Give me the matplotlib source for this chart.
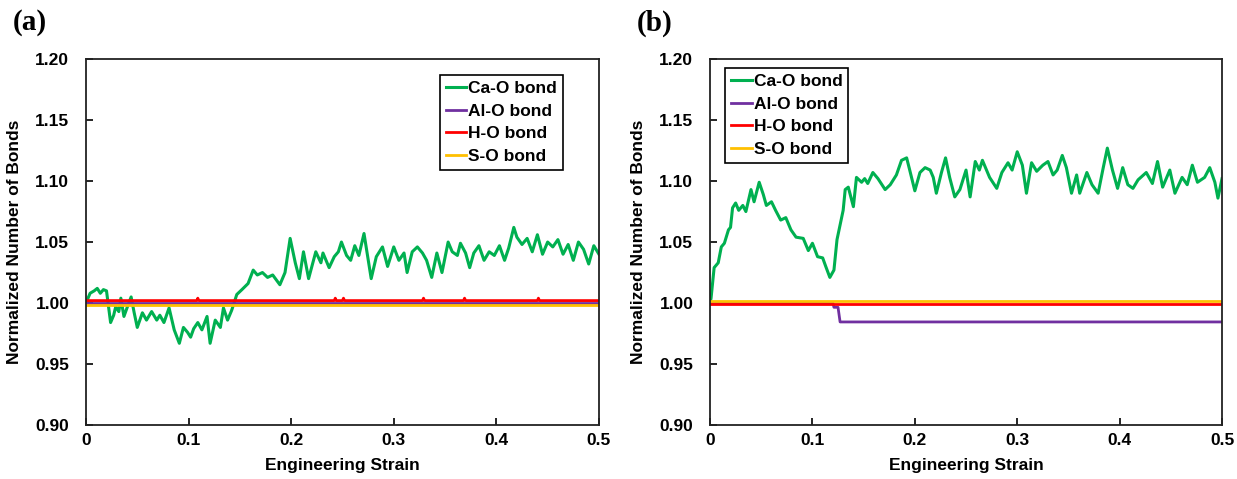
import numpy as np
import matplotlib
matplotlib.use("Agg")
import matplotlib.pyplot as plt

plt.rcParams['font.family'] = ['Liberation Sans', 'DejaVu Sans']
plt.rcParams['font.weight'] = 'bold'

# ---- panel (a) data ----
a_cao_x = [0.000, 0.004, 0.008, 0.011, 0.014, 0.017, 0.020, 0.024, 0.027, 0.029, 0.032, 0.034,
           0.037, 0.040, 0.044, 0.047, 0.050, 0.055, 0.059, 0.064, 0.069, 0.072, 0.076, 0.081,
           0.086, 0.091, 0.095, 0.099, 0.102, 0.105, 0.109, 0.113, 0.118, 0.121, 0.126, 0.131,
           0.134, 0.138, 0.142, 0.147, 0.152, 0.158, 0.163, 0.167, 0.172, 0.177, 0.182, 0.189,
           0.194, 0.199, 0.204, 0.208, 0.212, 0.217, 0.224, 0.229, 0.231, 0.237, 0.242, 0.246,
           0.249, 0.254, 0.258, 0.262, 0.266, 0.271, 0.278, 0.283, 0.289, 0.294, 0.300, 0.305,
           0.310, 0.313, 0.318, 0.323, 0.328, 0.332, 0.337, 0.342, 0.347, 0.353, 0.357, 0.362,
           0.365, 0.370, 0.374, 0.378, 0.383, 0.388, 0.393, 0.398, 0.403, 0.408, 0.412, 0.417,
           0.420, 0.425, 0.430, 0.435, 0.440, 0.445, 0.450, 0.455, 0.460, 0.465, 0.470, 0.475,
           0.480, 0.485, 0.490, 0.495, 0.500]
a_cao_y = [1.000, 1.008, 1.010, 1.012, 1.008, 1.011, 1.010, 0.984, 0.990, 0.997, 0.993, 1.004,
           0.989, 0.996, 1.005, 0.992, 0.980, 0.992, 0.986, 0.993, 0.986, 0.990, 0.984, 0.996,
           0.978, 0.967, 0.980, 0.976, 0.972, 0.979, 0.984, 0.978, 0.989, 0.967, 0.986, 0.980,
           0.996, 0.986, 0.994, 1.007, 1.011, 1.016, 1.027, 1.023, 1.025, 1.021, 1.023, 1.015,
           1.025, 1.053, 1.033, 1.020, 1.042, 1.020, 1.042, 1.033, 1.041, 1.029, 1.038, 1.042,
           1.050, 1.039, 1.035, 1.047, 1.039, 1.057, 1.020, 1.038, 1.046, 1.030, 1.046, 1.035,
           1.041, 1.025, 1.042, 1.046, 1.041, 1.035, 1.021, 1.041, 1.025, 1.050, 1.042, 1.039,
           1.049, 1.041, 1.029, 1.041, 1.047, 1.035, 1.042, 1.039, 1.047, 1.035, 1.045, 1.062,
           1.054, 1.048, 1.053, 1.042, 1.056, 1.040, 1.050, 1.046, 1.052, 1.040, 1.048, 1.035,
           1.050, 1.044, 1.032, 1.047, 1.040]
a_alo_x = [0.0, 0.5]
a_alo_y = [1.000, 1.000]
a_ho_x = [0.0, 0.108, 0.109, 0.110, 0.242, 0.243, 0.244, 0.250, 0.251, 0.252,
          0.328, 0.329, 0.330, 0.368, 0.369, 0.370, 0.440, 0.441, 0.442, 0.5]
a_ho_y = [1.002, 1.002, 1.004, 1.002, 1.002, 1.004, 1.002, 1.002, 1.004, 1.002,
          1.002, 1.004, 1.002, 1.002, 1.004, 1.002, 1.002, 1.004, 1.002, 1.002]
a_so_x = [0.0, 0.5]
a_so_y = [0.998, 0.998]

# ---- panel (b) data ----
b_cao_x = [0.000, 0.001, 0.004, 0.008, 0.011, 0.014, 0.018, 0.020, 0.022, 0.025, 0.028, 0.032,
           0.035, 0.040, 0.043, 0.048, 0.052, 0.055, 0.060, 0.064, 0.069, 0.074, 0.079, 0.084,
           0.091, 0.096, 0.100, 0.105, 0.110, 0.113, 0.117, 0.121, 0.124, 0.130, 0.132, 0.135,
           0.140, 0.143, 0.148, 0.151, 0.154, 0.159, 0.164, 0.171, 0.176, 0.182, 0.187, 0.192,
           0.195, 0.200, 0.205, 0.210, 0.215, 0.218, 0.221, 0.226, 0.230, 0.234, 0.239, 0.244,
           0.250, 0.254, 0.259, 0.263, 0.266, 0.273, 0.280, 0.285, 0.291, 0.295, 0.300, 0.305,
           0.309, 0.314, 0.319, 0.325, 0.330, 0.335, 0.339, 0.344, 0.348, 0.353, 0.358, 0.361,
           0.368, 0.373, 0.379, 0.384, 0.388, 0.393, 0.398, 0.403, 0.408, 0.413, 0.418, 0.426,
           0.432, 0.437, 0.442, 0.449, 0.454, 0.461, 0.466, 0.471, 0.476, 0.483, 0.488, 0.493,
           0.496, 0.500]
b_cao_y = [1.000, 1.004, 1.029, 1.033, 1.046, 1.049, 1.060, 1.062, 1.078, 1.082, 1.076, 1.080,
           1.075, 1.093, 1.083, 1.099, 1.089, 1.080, 1.083, 1.076, 1.068, 1.070, 1.060, 1.054,
           1.053, 1.043, 1.049, 1.038, 1.037, 1.030, 1.021, 1.027, 1.052, 1.076, 1.093, 1.095,
           1.079, 1.103, 1.099, 1.102, 1.098, 1.107, 1.102, 1.093, 1.097, 1.105, 1.117, 1.119,
           1.109, 1.092, 1.107, 1.111, 1.109, 1.103, 1.090, 1.107, 1.119, 1.103, 1.087, 1.093,
           1.109, 1.087, 1.116, 1.109, 1.117, 1.103, 1.094, 1.107, 1.115, 1.109, 1.124, 1.113,
           1.090, 1.115, 1.108, 1.113, 1.116, 1.105, 1.109, 1.121, 1.111, 1.090, 1.105, 1.090,
           1.107, 1.097, 1.090, 1.111, 1.127, 1.109, 1.094, 1.111, 1.097, 1.094, 1.101, 1.107,
           1.098, 1.116, 1.095, 1.109, 1.090, 1.103, 1.097, 1.113, 1.099, 1.103, 1.111, 1.099,
           1.086, 1.102]
b_alo_x = [0.0, 0.120, 0.121, 0.125, 0.127, 0.5]
b_alo_y = [1.000, 1.000, 0.9965, 0.9965, 0.9845, 0.9845]
b_ho_x = [0.0, 0.5]
b_ho_y = [0.9995, 0.9995]
b_so_x = [0.0, 0.5]
b_so_y = [1.0015, 1.0015]

labels = ['Ca-O bond', 'Al-O bond', 'H-O bond', 'S-O bond']
colors = ['#00B050', '#7030A0', '#FF0000', '#FFC000']
y_ticks = [0.90, 0.95, 1.00, 1.05, 1.10, 1.15, 1.20]
x_ticks = [0, 0.1, 0.2, 0.3, 0.4, 0.5]
x_ticklabels = ['0', '0.1', '0.2', '0.3', '0.4', '0.5']

fig = plt.figure(figsize=(12.37, 4.79), dpi=100)
ax_a = fig.add_axes([0.0695, 0.1127, 0.4147, 0.764])
ax_b = fig.add_axes([0.574, 0.1127, 0.4139, 0.764])

panels = [
    (ax_a, [(a_cao_x, a_cao_y), (a_alo_x, a_alo_y), (a_ho_x, a_ho_y), (a_so_x, a_so_y)],
     dict(loc='upper right', bbox_to_anchor=(0.930, 0.956))),
    (ax_b, [(b_cao_x, b_cao_y), (b_alo_x, b_alo_y), (b_ho_x, b_ho_y), (b_so_x, b_so_y)],
     dict(loc='upper left', bbox_to_anchor=(0.029, 0.975))),
]

for ax, series, leg_kw in panels:
    for (xs, ys), lab, col in zip(series, labels, colors):
        lw = 2.2 if lab == 'Ca-O bond' else 2.0
        ax.plot(xs, ys, color=col, lw=lw, label=lab)
    ax.set_xlim(0, 0.5)
    ax.set_ylim(0.90, 1.20)
    ax.set_yticks(y_ticks)
    ax.set_yticklabels([f'{v:.2f}' for v in y_ticks])
    ax.set_xticks(x_ticks)
    ax.set_xticklabels(x_ticklabels)
    ax.tick_params(direction='in', length=5, width=1.2, labelsize=12.5, colors='black')
    ax.tick_params(axis='y', pad=12)
    ax.tick_params(axis='x', pad=6)
    for s in ax.spines.values():
        s.set_linewidth(1.3)
        s.set_color('#222222')
    ax.set_xlabel('Engineering Strain', fontsize=12.5, fontweight='bold')
    ax.set_ylabel('Normalized Number of Bonds', fontsize=12.5, fontweight='bold')
    ax.yaxis.set_label_coords(-0.125, 0.5)
    ax.xaxis.set_label_coords(0.5, -0.09)
    leg = ax.legend(fontsize=12.5, handlelength=1.2, handletextpad=0.1, borderpad=0.35,
                    labelspacing=0.42, fancybox=False, framealpha=1, edgecolor='black',
                    borderaxespad=0.0, **leg_kw)
    leg.get_frame().set_linewidth(1.2)
    for t in leg.get_texts():
        t.set_fontweight('bold')

fig.text(0.024, 0.952, '(a)', fontsize=21, fontweight='bold',
         family=['Liberation Serif', 'DejaVu Serif'], ha='center', va='center')
fig.text(0.529, 0.952, '(b)', fontsize=21, fontweight='bold',
         family=['Liberation Serif', 'DejaVu Serif'], ha='center', va='center')

fig.savefig('out.png', dpi=100)
